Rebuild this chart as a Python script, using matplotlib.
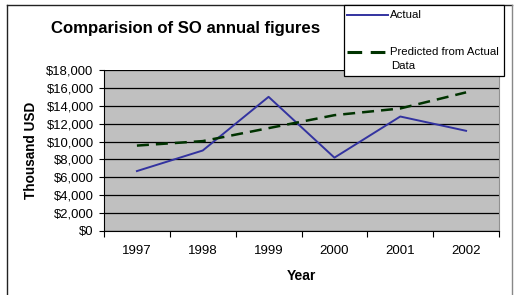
import matplotlib
matplotlib.use("Agg")
import matplotlib.pyplot as plt
from matplotlib.lines import Line2D
from matplotlib.patches import Rectangle
from matplotlib.ticker import FuncFormatter, MultipleLocator

years = ["1997", "1998", "1999", "2000", "2001", "2002"]
actual = [6700, 9000, 15000, 8200, 12800, 11200]
predicted = [9550, 10050, 11500, 12950, 13700, 15500]

plt.rcParams['font.family'] = ['Liberation Sans', 'DejaVu Sans']

W, H = 518, 295
fig = plt.figure(figsize=(W / 100, H / 100), dpi=100)
fig.patch.set_facecolor('white')

def fx(px):
    return px / W

def fy(py):
    return 1 - py / H

# outer border
fig.add_artist(Line2D([fx(7), fx(7)], [fy(5), fy(300)], transform=fig.transFigure,
                      color='#222222', linewidth=1.0))
fig.add_artist(Line2D([fx(7), fx(512)], [fy(5), fy(5)], transform=fig.transFigure,
                      color='#222222', linewidth=1.0))
fig.add_artist(Line2D([fx(512), fx(512)], [fy(5), fy(300)], transform=fig.transFigure,
                      color='#888888', linewidth=1.0))

left, right, top, bottom = 104, 499, 70, 231
ax = fig.add_axes([fx(left), fy(bottom), fx(right) - fx(left), fy(top) - fy(bottom)])
ax.set_facecolor('#C0C0C0')

x = list(range(len(years)))
ax.plot(x, actual, color='#3333A0', linewidth=1.4, label='Actual', zorder=3)
ax.plot(x, predicted, color='#003300', linewidth=1.8, dashes=(4.8, 2.8),
        label='Predicted from Actual\nData', zorder=3)

ax.set_xlim(-0.5, len(years) - 0.5)
ax.set_ylim(0, 18000)
ax.yaxis.set_major_locator(MultipleLocator(2000))
ax.yaxis.set_major_formatter(FuncFormatter(lambda v, p: f"${int(v):,}"))
ax.grid(axis='y', color='black', linewidth=0.9)
ax.set_axisbelow(True)

ax.set_xticks([i - 0.5 for i in range(len(years) + 1)])
ax.set_xticklabels([])
ax.set_xticks(x, minor=True)
ax.set_xticklabels(years, minor=True)
ax.tick_params(axis='x', which='minor', length=0, pad=10, labelsize=9.5)
ax.tick_params(axis='x', which='major', length=4, direction='out', width=0.8)
ax.tick_params(axis='y', length=3.5, direction='out', width=0.8, labelsize=9.4, pad=4)

ax.spines['top'].set_visible(False)
ax.spines['right'].set_color('#909090')
ax.spines['left'].set_color('black')
ax.spines['bottom'].set_color('black')

ax.set_xlabel('Year', fontweight='bold', fontsize=10, labelpad=9)
ax.set_ylabel('Thousand USD', fontweight='bold', fontsize=9.8, labelpad=6)

fig.text(fx(186), fy(28), 'Comparision of SO annual figures', ha='center', va='center',
         fontsize=12.1, fontweight='bold')

# legend
fig.add_artist(Rectangle((fx(344), fy(76)), fx(504) - fx(344), fy(5) - fy(76),
                         transform=fig.transFigure, facecolor='white',
                         edgecolor='black', linewidth=0.9, zorder=5))
fig.add_artist(Line2D([fx(347), fx(388)], [fy(15), fy(15)], transform=fig.transFigure,
                      color='#3333A0', linewidth=1.4, zorder=6))
fig.add_artist(Line2D([fx(347), fx(386)], [fy(52), fy(52)], transform=fig.transFigure,
                      color='#003300', linewidth=2.2, dashes=(4.8, 2.8), zorder=6))
fig.text(fx(390), fy(15), 'Actual', ha='left', va='center', fontsize=8.2, zorder=7)
fig.text(fx(390), fy(52), 'Predicted from Actual', ha='left', va='center', fontsize=8.2, zorder=7)
fig.text(fx(391), fy(66), 'Data', ha='left', va='center', fontsize=8.2, zorder=7)

fig.savefig('out.png', dpi=100)
